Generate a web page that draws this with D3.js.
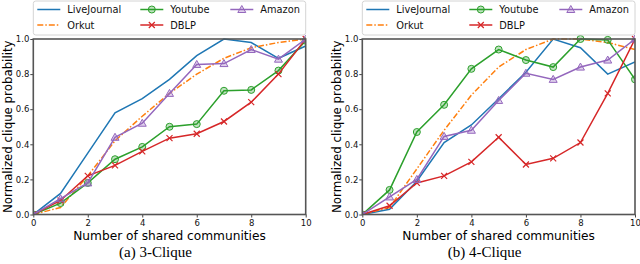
<!DOCTYPE html>
<html>
<head>
<meta charset="utf-8">
<script src="https://cdn.jsdelivr.net/npm/d3@7"></script>
<style>
  body { margin: 0; background: #fff; }
  text { font-family: "DejaVu Sans", sans-serif; }
</style>
</head>
<body>
<svg id="chart" width="640" height="264"></svg>
<script>
const xs = [0, 1, 2, 3, 4, 5, 6, 7, 8, 9, 10];
const xTicks = [0, 2, 4, 6, 8, 10];
const yTicks = [0, 0.2, 0.4, 0.6, 0.8, 1.0];
const seriesNames = ["LiveJournal", "Orkut", "Youtube", "DBLP", "Amazon"];

// (a) 3-Clique
const lj3 = [0, 0.12, 0.35, 0.58, 0.66, 0.77, 0.905, 1.0, 0.98, 0.89, 0.96];
const orkut3 = [0, 0.04, 0.22, 0.42, 0.56, 0.69, 0.80, 0.89, 0.95, 0.98, 1.0];
const youtube3 = [0, 0.065, 0.18, 0.315, 0.385, 0.50, 0.515, 0.705, 0.71, 0.82, 0.99];
const dblp3 = [0, 0.08, 0.22, 0.28, 0.36, 0.435, 0.46, 0.53, 0.64, 0.80, 1.0];
const amazon3 = [0, 0.09, 0.18, 0.44, 0.52, 0.69, 0.855, 0.86, 0.94, 0.885, 1.0];

// (b) 4-Clique
const lj4 = [0, 0.03, 0.19, 0.41, 0.51, 0.66, 0.81, 1.0, 0.95, 0.80, 0.87];
const orkut4 = [0, 0.04, 0.26, 0.48, 0.68, 0.84, 0.94, 1.0, 1.0, 0.98, 0.94];
const youtube4 = [0, 0.14, 0.47, 0.625, 0.83, 0.94, 0.88, 0.84, 1.0, 0.995, 0.77];
const dblp4 = [0, 0.05, 0.18, 0.22, 0.30, 0.44, 0.285, 0.32, 0.41, 0.69, 1.0];
const amazon4 = [0, 0.10, 0.20, 0.445, 0.48, 0.65, 0.805, 0.77, 0.84, 0.88, 1.0];

const styles = {
    "LiveJournal": { color: "#1f77b4", dash: null, marker: null },
    "Orkut": { color: "#ff7f0e", dash: "6,2,1.5,2", marker: null },
    "Youtube": { color: "#2ca02c", dash: null, marker: "circle" },
    "DBLP": { color: "#d62728", dash: null, marker: "x" },
    "Amazon": { color: "#9467bd", dash: null, marker: "triangle" }
};

const svg = d3.select("#chart");

function drawMarker(g, type, cx, cy, color) {
    if (type === "circle") {
        g.append("circle")
            .attr("cx", cx).attr("cy", cy).attr("r", 3.5)
            .attr("fill", color).attr("fill-opacity", 0.3)
            .attr("stroke", color).attr("stroke-width", 1);
    } else if (type === "triangle") {
        const s = 4;
        g.append("path")
            .attr("d", `M${cx},${cy - s} L${cx + s},${cy + s * 0.75} L${cx - s},${cy + s * 0.75} Z`)
            .attr("fill", color).attr("fill-opacity", 0.3)
            .attr("stroke", color).attr("stroke-width", 1);
    } else if (type === "x") {
        const s = 3;
        g.append("path")
            .attr("d", `M${cx - s},${cy - s} L${cx + s},${cy + s} M${cx - s},${cy + s} L${cx + s},${cy - s}`)
            .attr("stroke", color).attr("stroke-width", 1.2);
    }
}

function drawPanel(left, right, series, caption) {
    const top = 39, bottom = 214.5;
    const g = svg.append("g");

    const x = d3.scaleLinear().domain([0, 10]).range([left, right]);
    const y = d3.scaleLinear().domain([0, 1]).range([bottom, top]);

    const clipId = "clip" + Math.round(left);
    g.append("clipPath").attr("id", clipId)
        .append("rect")
        .attr("x", left).attr("y", top - 5)
        .attr("width", right - left).attr("height", bottom - top + 5);

    const line = d3.line()
        .x((d, i) => x(xs[i]))
        .y(d => y(d));

    series.forEach(([name, values]) => {
        const st = styles[name];
        const sg = g.append("g").attr("clip-path", `url(#${clipId})`);
        sg.append("path")
            .attr("d", line(values))
            .attr("fill", "none")
            .attr("stroke", st.color)
            .attr("stroke-width", 1.5)
            .attr("stroke-dasharray", st.dash);
        if (st.marker) {
            values.forEach((v, i) => drawMarker(sg, st.marker, x(xs[i]), y(v), st.color));
        }
    });

    // axes
    const xAxis = g.append("g")
        .attr("transform", `translate(0,${bottom})`)
        .call(d3.axisBottom(x).tickValues(xTicks).tickSize(3).tickPadding(2)
            .tickFormat(d3.format("d")));
    const yAxis = g.append("g")
        .attr("transform", `translate(${left},0)`)
        .call(d3.axisLeft(y).tickValues(yTicks).tickSize(3).tickPadding(1)
            .tickFormat(d3.format(".1f")));
    [xAxis, yAxis].forEach(a => {
        a.select(".domain").remove();
        a.selectAll("line").attr("stroke", "#444").attr("stroke-width", 1);
        a.selectAll("text").attr("font-size", 8.5).attr("fill", "#111")
            .attr("font-family", "DejaVu Sans, sans-serif");
    });

    g.append("rect")
        .attr("x", left).attr("y", top)
        .attr("width", right - left).attr("height", bottom - top)
        .attr("fill", "none").attr("stroke", "#555").attr("stroke-width", 1.6);

    // labels
    const cx = (left + right) / 2;
    g.append("text")
        .attr("x", cx).attr("y", 240)
        .attr("text-anchor", "middle")
        .attr("font-size", 12.2)
        .text("Number of shared communities");
    g.append("text")
        .attr("transform", `translate(${left - 21.5},${(top + bottom) / 2}) rotate(-90)`)
        .attr("text-anchor", "middle")
        .attr("font-size", 11.8)
        .text("Normalized clique probability");
    g.append("text")
        .attr("x", cx - 14).attr("y", 257)
        .attr("text-anchor", "middle")
        .attr("font-size", 15)
        .style("font-family", "'Liberation Serif', 'DejaVu Serif', serif")
        .text(caption);

    // legend
    const lg = g.append("g");
    lg.append("rect")
        .attr("x", left).attr("y", 1)
        .attr("width", right - left).attr("height", 34)
        .attr("rx", 2.5)
        .attr("fill", "#fff").attr("stroke", "#d4d4d4").attr("stroke-width", 1);
    const colX = [4, 107, 197];
    seriesNames.forEach((name, i) => {
        const col = Math.floor(i / 2), row = i % 2;
        const hx = left + colX[col];
        const hy = 9.5 + row * 15.5;
        const st = styles[name];
        lg.append("line")
            .attr("x1", hx).attr("x2", hx + 23)
            .attr("y1", hy).attr("y2", hy)
            .attr("stroke", st.color).attr("stroke-width", 1.5)
            .attr("stroke-dasharray", st.dash);
        if (st.marker) drawMarker(lg, st.marker, hx + 11.5, hy, st.color);
        lg.append("text")
            .attr("x", hx + 30).attr("y", hy + 3.5)
            .attr("font-size", 9.8)
            .attr("fill", "#111")
            .text(name);
    });
}

drawPanel(33.3, 305.7,
    [["LiveJournal", lj3], ["Orkut", orkut3], ["Youtube", youtube3], ["DBLP", dblp3], ["Amazon", amazon3]],
    "(a)  3-Clique");
drawPanel(362.3, 635,
    [["LiveJournal", lj4], ["Orkut", orkut4], ["Youtube", youtube4], ["DBLP", dblp4], ["Amazon", amazon4]],
    "(b)  4-Clique");
</script>
</body>
</html>
